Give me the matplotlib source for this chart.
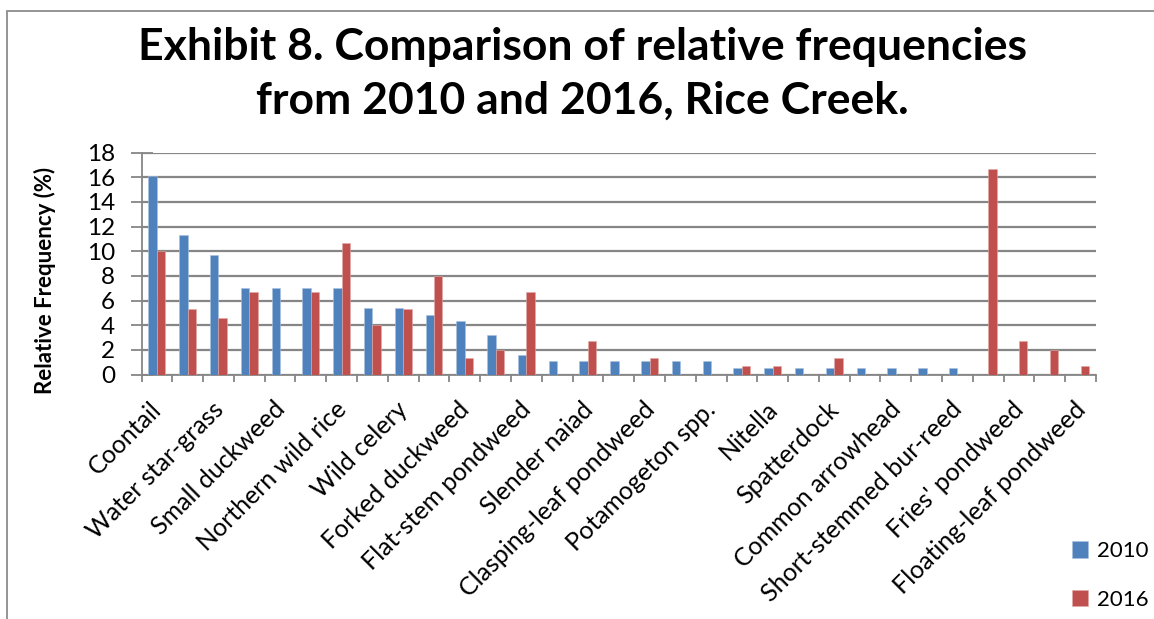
import matplotlib
matplotlib.use("Agg")
import matplotlib.pyplot as plt
from matplotlib.patches import Rectangle
from matplotlib.transforms import ScaledTranslation, blended_transform_factory
import numpy as np

# Relative frequencies (%) of aquatic plant species, Rice Creek
n_species = 31
freq_2010 = [16.1, 11.3, 9.7, 7.0, 7.0, 7.0, 7.0, 5.4, 5.4, 4.8,
             4.3, 3.2, 1.6, 1.1, 1.1, 1.1, 1.1, 1.1, 1.1, 0.5,
             0.5, 0.5, 0.5, 0.5, 0.5, 0.5, 0.5, 0, 0, 0, 0]
freq_2016 = [10.0, 5.3, 4.6, 6.7, 0, 6.7, 10.7, 4.0, 5.3, 8.0,
             1.3, 2.0, 6.7, 0, 2.7, 0, 1.3, 0, 0, 0.7,
             0.7, 0, 1.3, 0, 0, 0, 0, 16.7, 2.7, 2.0, 0.7]
# Every other species carries a visible name on the category axis
tick_labels = ["Coontail", "Water star-grass", "Small duckweed",
               "Northern wild rice", "Wild celery", "Forked duckweed",
               "Flat-stem pondweed", "Slender naiad", "Clasping-leaf pondweed",
               "Potamogeton spp.", "Nitella", "Spatterdock", "Common arrowhead",
               "Short-stemmed bur-reed", "Fries' pondweed", "Floating-leaf pondweed"]
series_names = ["2010", "2016"]
y_ticks = list(range(0, 19, 2))

BLUE = "#4F81BD"
RED = "#C0504D"
GRID = "#868686"
FONT = "Lato"

W, H = 1154, 619
fig = plt.figure(figsize=(W / 100, H / 100), dpi=100)
fig.patch.set_facecolor("white")

# outer chart frame
fig.add_artist(Rectangle((7 / W, -0.1), 1.2, (H - 11) / H + 0.1,
                         transform=fig.transFigure, fill=False,
                         edgecolor="#8c8c8c", linewidth=1.3))

ax = fig.add_axes([141.5 / W, (H - 374.5) / H, (1096 - 141.5) / W, (374.5 - 152.5) / H])
x = np.arange(n_species)
bw = 0.275
ax.bar(x - bw / 2, freq_2010, width=bw, color=BLUE, edgecolor="#a9c1e0",
       linewidth=0.4, label=series_names[0], zorder=3)
ax.bar(x + bw / 2, freq_2016, width=bw, color=RED, edgecolor="#e0a9a8",
       linewidth=0.4, label=series_names[1], zorder=3)

ax.set_xlim(-0.5, n_species - 0.5)
ax.set_ylim(0, 18)
ax.set_yticks(y_ticks)
ax.set_yticklabels([str(v) for v in y_ticks], fontsize=17.5, family=FONT)
ax.yaxis.grid(True, color=GRID, linewidth=1.6, zorder=0)
ax.set_axisbelow(True)

# category ticks between groups; names drawn under every other group
ax.set_xticks(np.arange(-0.5, n_species, 1.0))
ax.set_xticklabels([])
ax.tick_params(axis="x", length=5, width=1.3, color=GRID, direction="out")
ax.tick_params(axis="y", length=16, width=1.3, color=GRID, direction="inout", pad=11)

name_trans = blended_transform_factory(ax.transData, ax.transAxes) + \
    ScaledTranslation(-7 / 100, -23 / 100, fig.dpi_scale_trans)
for pos, name in zip(range(0, n_species, 2), tick_labels):
    ax.text(pos, 0, name, transform=name_trans, rotation=45, ha="right", va="top",
            rotation_mode="anchor", fontsize=18, family=FONT, clip_on=False)

for side in ("top", "right"):
    ax.spines[side].set_visible(False)
for side in ("left", "bottom"):
    ax.spines[side].set_color(GRID)
    ax.spines[side].set_linewidth(1.3)

ax.set_ylabel("Relative Frequency (%)", fontsize=16, fontweight="bold", family=FONT)
ax.yaxis.set_label_coords((56 - 141.5) / (1096 - 141.5), (374.5 - 280) / (374.5 - 152.5))

fig.text(582 / W, 1 - 47 / H, "Exhibit 8. Comparison of relative frequencies",
         ha="center", va="center", fontsize=32, fontweight="bold", family=FONT)
fig.text(582 / W, 1 - 101 / H, "from 2010 and 2016, Rice Creek.",
         ha="center", va="center", fontsize=32, fontweight="bold", family=FONT)

# legend at the lower right
leg = fig.legend(loc="lower right", bbox_to_anchor=(1169 / W, -11 / H), frameon=False,
                 prop={"family": FONT, "size": 16}, handlelength=0.75, handleheight=0.75,
                 handletextpad=0.4, labelspacing=1.3)

fig.savefig("out.png", dpi=100)
